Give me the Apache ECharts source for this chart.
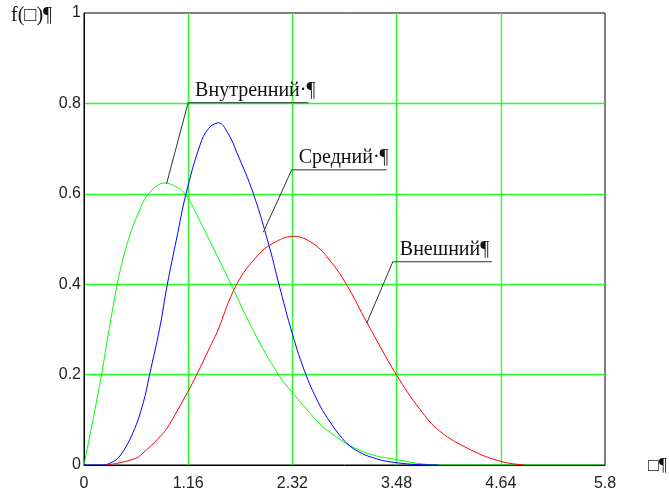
<!DOCTYPE html>
<html><head><meta charset="utf-8">
<script src="https://cdn.jsdelivr.net/npm/echarts@6/dist/echarts.min.js"></script>
<style>html,body{margin:0;padding:0;background:#fff}#c{width:669px;height:492px}</style>
</head><body><div id="c"></div>
<script>
// Tick values
const xTicks = [0, 1.16, 2.32, 3.48, 4.64, 5.8];
const yTicks = [0, 0.2, 0.4, 0.6, 0.8, 1];

// Series: [x, f(x)]
const innerName = 'Внутренний';
const inner = [[0,0],[0.05,0.05],[0.12,0.12],[0.195,0.2],[0.28,0.30],[0.37,0.40],[0.44,0.46],[0.53,0.52],[0.62,0.565],[0.70,0.595],[0.80,0.616],[0.90,0.624],[1.0,0.618],[1.125,0.60],[1.29,0.54],[1.40,0.496],[1.636,0.40],[1.89,0.295],[2.164,0.20],[2.32,0.16],[2.63,0.09],[2.74,0.072],[2.96,0.043],[3.22,0.022],[3.48,0.012],[3.70,0.004],[3.95,0],[5.8,0]];

const middleName = 'Средний';
const middle = [[0,0],[0.2,0],[0.3,0.005],[0.40,0.02],[0.546,0.072],[0.66,0.138],[0.73,0.2],[0.84,0.30],[0.928,0.40],[1.03,0.50],[1.136,0.60],[1.29,0.707],[1.385,0.744],[1.496,0.757],[1.60,0.735],[1.70,0.692],[1.886,0.60],[2.07,0.478],[2.17,0.40],[2.32,0.29],[2.47,0.20],[2.63,0.130],[2.74,0.095],[2.85,0.065],[2.96,0.042],[3.1,0.025],[3.22,0.016],[3.35,0.009],[3.48,0.005],[3.70,0.001],[3.95,0]];

const outerName = 'Внешний';
const outer = [[0.25,0],[0.4,0.005],[0.55,0.013],[0.62,0.02],[0.88,0.07],[0.96,0.093],[1.15,0.16],[1.255,0.2],[1.40,0.26],[1.48,0.293],[1.70,0.40],[1.94,0.465],[2.1,0.49],[2.33,0.506],[2.55,0.49],[2.74,0.452],[2.92,0.40],[3.15,0.315],[3.48,0.199],[3.74,0.123],[3.96,0.075],[4.30,0.034],[4.64,0.008],[4.9,0]];

// Callout leaders (data coordinates): point on curve, elbow, end of underline
const callouts = [
  {text: 'Внутренний·¶', pts: [[0.919,0.622],[1.159,0.8016],[2.497,0.8016]]},
  {text: 'Средний·¶',    pts: [[1.996,0.515],[2.312,0.653],[3.371,0.653]]},
  {text: 'Внешний¶',     pts: [[3.148,0.314],[3.438,0.4497],[4.542,0.4497]]}
];

const fmt = v => String(+(+v).toFixed(2));
const chart = echarts.init(document.getElementById('c'), null, {renderer: 'canvas'});

const series = [
  {name: innerName, type: 'line', data: inner, color: '#00ff00'},
  {name: middleName, type: 'line', data: middle, color: '#0000ff'},
  {name: outerName, type: 'line', data: outer, color: '#ff0000'}
].map(s => Object.assign(s, {
  showSymbol: false, symbol: 'none', smooth: 0.4,
  lineStyle: {width: 1, color: s.color}, silent: true, animation: false, z: 3
}));

callouts.forEach(c => series.push({
  type: 'line', data: c.pts, symbol: 'none', silent: true, animation: false, z: 4,
  lineStyle: {width: 1, color: '#333'}
}));

chart.setOption({
  animation: false,
  grid: {left: 84, top: 13, width: 521, height: 452, show: true, borderColor: '#000', borderWidth: 1, backgroundColor: 'transparent'},
  xAxis: {
    type: 'value', min: xTicks[0], max: xTicks[xTicks.length - 1], interval: xTicks[1] - xTicks[0],
    axisLine: {show: true, lineStyle: {color: '#000', width: 1}},
    axisTick: {show: false},
    axisLabel: {formatter: fmt, color: '#222', fontFamily: 'Liberation Sans', fontSize: 16, margin: 11, showMaxLabel: true, showMinLabel: true},
    splitLine: {show: true, showMinLine: false, showMaxLine: false, lineStyle: {color: '#22ff22', width: 1.3}}
  },
  yAxis: {
    type: 'value', min: yTicks[0], max: yTicks[yTicks.length - 1], interval: yTicks[1] - yTicks[0],
    axisLine: {show: true, lineStyle: {color: '#000', width: 1}},
    axisTick: {show: false},
    axisLabel: {formatter: fmt, color: '#222', fontFamily: 'Liberation Sans', fontSize: 16, margin: 3},
    splitLine: {show: true, showMinLine: false, showMaxLine: false, lineStyle: {color: '#22ff22', width: 1.3}}
  },
  series: series
});

const serif = 'Liberation Serif';
const graphics = callouts.map(c => {
  const p = chart.convertToPixel({gridIndex: 0}, c.pts[1]);
  return {type: 'text', x: p[0] + 7, y: p[1] - 2, silent: true,
    style: {text: c.text, fontFamily: serif, fontSize: 20, fill: '#111', verticalAlign: 'bottom', align: 'left'}};
});
graphics.push({type: 'text', x: 11, y: 16, silent: true,
  style: {text: 'f(□)¶', fontFamily: serif, fontSize: 20, fill: '#111', verticalAlign: 'middle', align: 'left'}});
graphics.push({type: 'text', x: 648, y: 466, silent: true,
  style: {text: '□¶', fontFamily: serif, fontSize: 18, fill: '#111', verticalAlign: 'middle', align: 'left'}});
chart.setOption({graphic: graphics});
</script>
</body></html>
